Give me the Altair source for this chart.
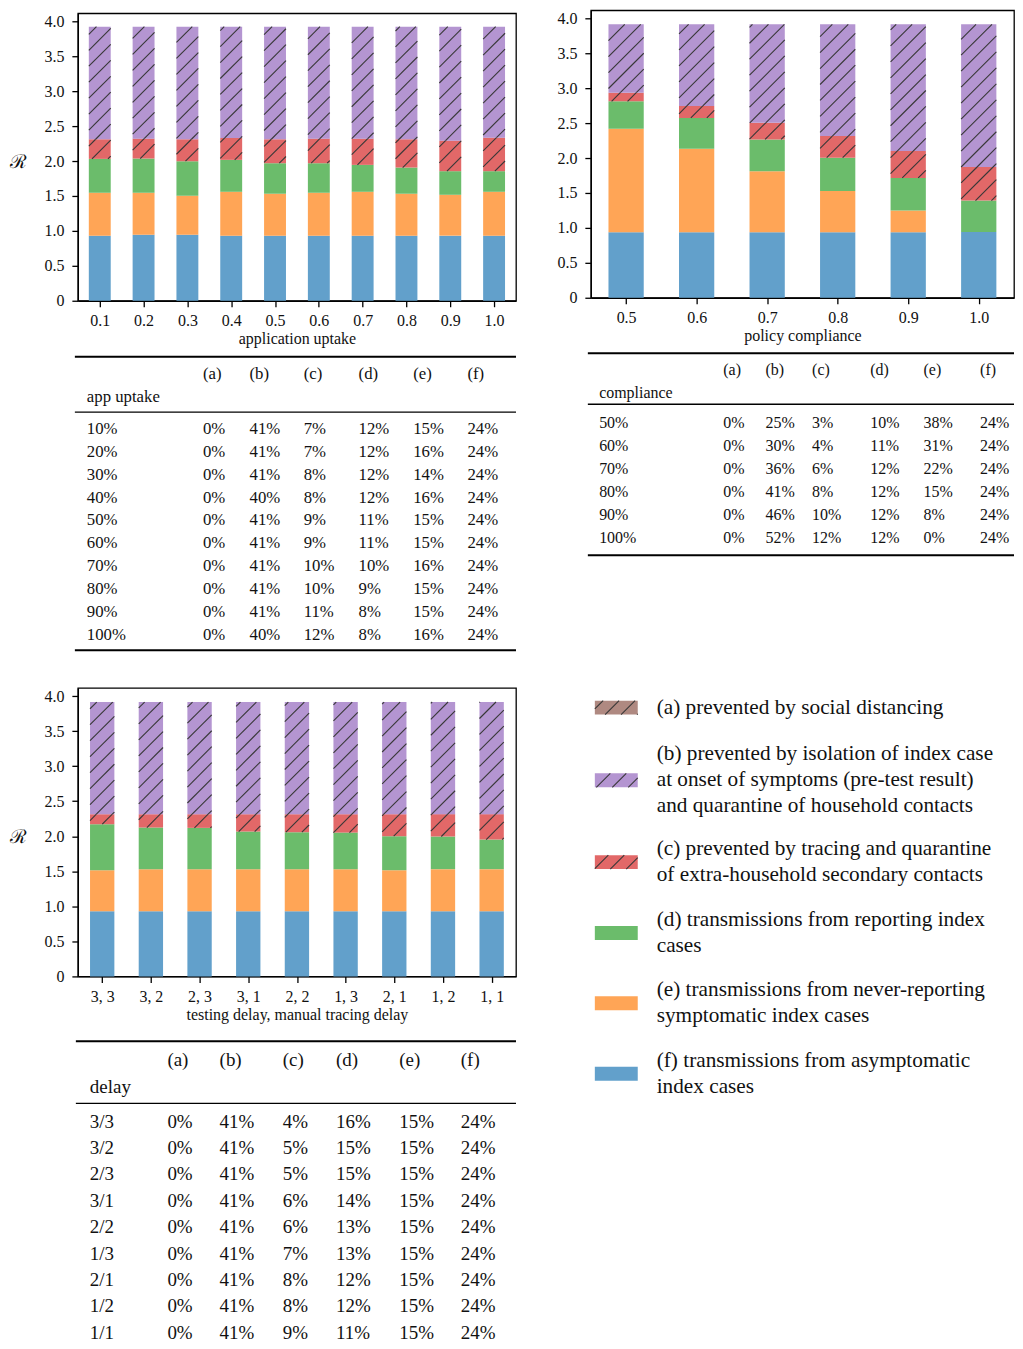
import math
import altair as alt
import pandas as pd

# ---------------- data ----------------
SEG_ORDER = ["f", "e", "d", "c", "b", "a"]          # stacking order, bottom -> top
HATCHED = ["a", "b", "c"]
LEGEND_ORDER = ["a", "b", "c", "d", "e", "f"]
SEG_COLORS = ["#af8981", "#b495d1", "#e26868", "#6bbc6b", "#ffa556", "#62a0cb"]  # a..f

uptake_labels = ["0.1", "0.2", "0.3", "0.4", "0.5", "0.6", "0.7", "0.8", "0.9", "1.0"]
uptake_f = [0.932, 0.946, 0.946, 0.932, 0.932, 0.932, 0.932, 0.932, 0.932, 0.932]
uptake_e = [0.614, 0.600, 0.557, 0.628, 0.600, 0.614, 0.628, 0.600, 0.585, 0.628]
uptake_d = [0.485, 0.490, 0.495, 0.457, 0.437, 0.423, 0.385, 0.375, 0.338, 0.295]
uptake_c = [0.281, 0.285, 0.314, 0.314, 0.343, 0.352, 0.376, 0.405, 0.437, 0.480]
uptake_b = [1.612, 1.603, 1.612, 1.593, 1.612, 1.603, 1.603, 1.612, 1.632, 1.589]
uptake_a = [0, 0, 0, 0, 0, 0, 0, 0, 0, 0]

compliance_labels = ["0.5", "0.6", "0.7", "0.8", "0.9", "1.0"]
compliance_f = [0.936, 0.936, 0.936, 0.936, 0.936, 0.941]
compliance_e = [1.482, 1.197, 0.874, 0.594, 0.313, 0.0]
compliance_d = [0.394, 0.442, 0.456, 0.475, 0.466, 0.451]
compliance_c = [0.124, 0.171, 0.238, 0.309, 0.385, 0.480]
compliance_b = [0.978, 1.168, 1.410, 1.600, 1.814, 2.042]
compliance_a = [0, 0, 0, 0, 0, 0]

delay_labels = ["3, 3", "3, 2", "2, 3", "3, 1", "2, 2", "1, 3", "2, 1", "1, 2", "1, 1"]
delay_f = [0.931, 0.931, 0.931, 0.931, 0.931, 0.931, 0.931, 0.931, 0.931]
delay_e = [0.584, 0.599, 0.599, 0.599, 0.599, 0.599, 0.584, 0.599, 0.599]
delay_d = [0.656, 0.594, 0.589, 0.537, 0.527, 0.522, 0.485, 0.466, 0.423]
delay_c = [0.143, 0.190, 0.195, 0.247, 0.257, 0.262, 0.314, 0.319, 0.362]
delay_b = [1.600, 1.600, 1.600, 1.600, 1.600, 1.600, 1.600, 1.600, 1.600]
delay_a = [0, 0, 0, 0, 0, 0, 0, 0, 0]

y_ticks = [0, 0.5, 1.0, 1.5, 2.0, 2.5, 3.0, 3.5, 4.0]
table_cols = ["(a)", "(b)", "(c)", "(d)", "(e)", "(f)"]

uptake_rows = ["10%", "20%", "30%", "40%", "50%", "60%", "70%", "80%", "90%", "100%"]
uptake_table = [
    [0, 41, 7, 12, 15, 24], [0, 41, 7, 12, 16, 24], [0, 41, 8, 12, 14, 24],
    [0, 40, 8, 12, 16, 24], [0, 41, 9, 11, 15, 24], [0, 41, 9, 11, 15, 24],
    [0, 41, 10, 10, 16, 24], [0, 41, 10, 9, 15, 24], [0, 41, 11, 8, 15, 24],
    [0, 40, 12, 8, 16, 24],
]
compliance_rows = ["50%", "60%", "70%", "80%", "90%", "100%"]
compliance_table = [
    [0, 25, 3, 10, 38, 24], [0, 30, 4, 11, 31, 24], [0, 36, 6, 12, 22, 24],
    [0, 41, 8, 12, 15, 24], [0, 46, 10, 12, 8, 24], [0, 52, 12, 12, 0, 24],
]
delay_rows = ["3/3", "3/2", "2/3", "3/1", "2/2", "1/3", "2/1", "1/2", "1/1"]
delay_table = [
    [0, 41, 4, 16, 15, 24], [0, 41, 5, 15, 15, 24], [0, 41, 5, 15, 15, 24],
    [0, 41, 6, 14, 15, 24], [0, 41, 6, 13, 15, 24], [0, 41, 7, 13, 15, 24],
    [0, 41, 8, 12, 15, 24], [0, 41, 8, 12, 15, 24], [0, 41, 9, 11, 15, 24],
]

legend_lines = {
    "a": ["(a) prevented by social distancing"],
    "b": ["(b) prevented by isolation of index case",
          "at onset of symptoms (pre-test result)",
          "and quarantine of household contacts"],
    "c": ["(c) prevented by tracing and quarantine",
          "of extra-household secondary contacts"],
    "d": ["(d) transmissions from reporting index", "cases"],
    "e": ["(e) transmissions from never-reporting", "symptomatic index cases"],
    "f": ["(f) transmissions from asymptomatic", "index cases"],
}

# ---------------- style / layout ----------------
FONT = "Liberation Serif"
TXT = "#111111"
HATCH_COLOR = "#383838"
HATCH_PERIOD = 16.0
BAR_HALF = 0.25

color_scale = alt.Scale(domain=LEGEND_ORDER, range=SEG_COLORS)
NOFRAME = alt.ViewBackground(stroke="transparent", strokeWidth=0)


def hatch_lines(Xl, Xr, Y0, Y1):
    """45-degree hatch segments (pixel space, y up) clipped to a rectangle."""
    out = []
    P = HATCH_PERIOD
    for k in range(math.ceil((Y0 - Xr) / P), math.floor((Y1 - Xl) / P) + 1):
        c = k * P
        xs = max(Xl, Y0 - c)
        xe = min(Xr, Y1 - c)
        if xe - xs > 0.3:
            out.append((xs, xs + c, xe, xe + c))
    return out


def bar_panel(cats, segs, xtitle, W, H, ymax, ytitle):
    n = len(cats)
    px = W / n
    py = H / ymax
    bars, hatch = [], []
    for i in range(n):
        base = 0.0
        for key in SEG_ORDER:
            v = segs[key][i]
            y0, y1 = base, base + v
            base = y1
            if v <= 0:
                continue
            bars.append(dict(seg=key, x0=i - BAR_HALF, x1=i + BAR_HALF, y0=y0, y1=y1))
            if key in HATCHED:
                Xl = (i - BAR_HALF + 0.5) * px
                Xr = (i + BAR_HALF + 0.5) * px
                for xs, ys, xe, ye in hatch_lines(Xl, Xr, y0 * py, y1 * py):
                    hatch.append(dict(x0=xs / px - 0.5, x1=xe / px - 0.5,
                                      y0=ys / py, y1=ye / py))
    label_expr = "[" + ",".join("'%s'" % c for c in cats) + "][datum.value]"
    xenc = alt.X("x0:Q", scale=alt.Scale(domain=[-0.5, n - 0.5], nice=False, zero=False),
                 axis=alt.Axis(values=list(range(n)), labelExpr=label_expr, title=xtitle,
                               grid=False))
    yaxis = dict(values=y_ticks, grid=False,
                 labelExpr="datum.value == 0 ? '0' : format(datum.value, '.1f')")
    if ytitle:
        yaxis.update(title=ytitle, titleAngle=0, titleX=-60, titleY=H / 2 + 4,
                     titleAlign="center", titleBaseline="middle", titleFontSize=19)
    else:
        yaxis.update(title=None)
    yenc = alt.Y("y0:Q", scale=alt.Scale(domain=[0, ymax], nice=False, zero=False),
                 axis=alt.Axis(**yaxis))
    bar_layer = alt.Chart(pd.DataFrame(bars)).mark_bar().encode(
        x=xenc, x2="x1:Q", y=yenc, y2="y1:Q",
        color=alt.Color("seg:N", scale=color_scale, legend=None),
    )
    hatch_layer = alt.Chart(pd.DataFrame(hatch)).mark_rule(
        color=HATCH_COLOR, strokeWidth=1.1
    ).encode(x=xenc, x2="x1:Q", y=yenc, y2="y1:Q")
    return alt.layer(bar_layer, hatch_layer).properties(width=W, height=H)


def pixel_x(W):
    return alt.Scale(domain=[0, W], nice=False, zero=False)


def pixel_y(H):
    return alt.Scale(domain=[0, H], nice=False, zero=False, reverse=True)


def table_panel(title, row_labels, table, L):
    W, H = L["W"], L["H"]
    texts = []
    for j, c in enumerate(table_cols):
        texts.append(dict(tx=L["col_x"][j + 1], ty=L["header_y"], label=c))
    texts.append(dict(tx=L["col_x"][0], ty=L["title_y"], label=title))
    for r, (lab, vals) in enumerate(zip(row_labels, table)):
        ty = L["row_y0"] + r * L["row_dy"]
        texts.append(dict(tx=L["col_x"][0], ty=ty, label=lab))
        for j, v in enumerate(vals):
            texts.append(dict(tx=L["col_x"][j + 1], ty=ty, label="%d%%" % v))
    rules = [dict(tx=L["rule_x"][0], tx2=L["rule_x"][1], ty=y, rw=w)
             for y, w in L["rules"]]
    text_layer = alt.Chart(pd.DataFrame(texts)).mark_text(
        align="left", baseline="middle", font=FONT, fontSize=L["fs"], color=TXT
    ).encode(
        x=alt.X("tx:Q", scale=pixel_x(W), axis=None),
        y=alt.Y("ty:Q", scale=pixel_y(H), axis=None),
        text="label:N",
    )
    rule_layer = alt.Chart(pd.DataFrame(rules)).mark_rule(color="#000000").encode(
        x=alt.X("tx:Q", scale=pixel_x(W), axis=None),
        x2="tx2:Q",
        y=alt.Y("ty:Q", scale=pixel_y(H), axis=None),
        strokeWidth=alt.StrokeWidth("rw:Q", scale=None, legend=None),
    )
    return alt.layer(rule_layer, text_layer).properties(width=W, height=H, view=NOFRAME)


def legend_panel(L):
    W, H = L["W"], L["H"]
    rects, hatch, texts = [], [], []
    for key, cy in zip(LEGEND_ORDER, L["centers"]):
        x0, x1 = L["sw_x"]
        y0, y1 = cy - L["sw_h"] / 2, cy + L["sw_h"] / 2
        rects.append(dict(seg=key, x0=x0, x1=x1, y0=y0, y1=y1))
        if key in HATCHED:
            for xs, ys, xe, ye in hatch_lines(x0, x1, -y1, -y0):
                hatch.append(dict(x0=xs, x1=xe, y0=-ys, y1=-ye))
        lines = legend_lines[key]
        nl = len(lines)
        for i, line in enumerate(lines):
            texts.append(dict(tx=L["text_x"], ty=cy + (i - (nl - 1) / 2) * L["line_h"],
                              label=line))
    xs = pixel_x(W)
    ys = pixel_y(H)
    rect_layer = alt.Chart(pd.DataFrame(rects)).mark_rect().encode(
        x=alt.X("x0:Q", scale=xs, axis=None), x2="x1:Q",
        y=alt.Y("y0:Q", scale=ys, axis=None), y2="y1:Q",
        color=alt.Color("seg:N", scale=color_scale, legend=None),
    )
    hatch_layer = alt.Chart(pd.DataFrame(hatch)).mark_rule(
        color=HATCH_COLOR, strokeWidth=1.1
    ).encode(
        x=alt.X("x0:Q", scale=xs, axis=None), x2="x1:Q",
        y=alt.Y("y0:Q", scale=ys, axis=None), y2="y1:Q",
    )
    text_layer = alt.Chart(pd.DataFrame(texts)).mark_text(
        align="left", baseline="middle", font=FONT, fontSize=L["fs"], color=TXT
    ).encode(
        x=alt.X("tx:Q", scale=xs, axis=None),
        y=alt.Y("ty:Q", scale=ys, axis=None),
        text="label:N",
    )
    return alt.layer(rect_layer, hatch_layer, text_layer).properties(
        width=W, height=H, view=NOFRAME)


# ---------------- panels ----------------
RIGHT_W = 424

chart_uptake = bar_panel(
    uptake_labels,
    dict(a=uptake_a, b=uptake_b, c=uptake_c, d=uptake_d, e=uptake_e, f=uptake_f),
    "application uptake", 439, 288, 4.115, "ℛ")
chart_compliance = bar_panel(
    compliance_labels,
    dict(a=compliance_a, b=compliance_b, c=compliance_c, d=compliance_d,
         e=compliance_e, f=compliance_f),
    "policy compliance", RIGHT_W, 288, 4.115, None)
chart_delay = bar_panel(
    delay_labels,
    dict(a=delay_a, b=delay_b, c=delay_c, d=delay_d, e=delay_e, f=delay_f),
    "testing delay, manual tracing delay", 439, 289, 4.115, "ℛ")

table_uptake = table_panel("app uptake", uptake_rows, uptake_table, dict(
    W=439, H=384, fs=16.8, col_x=[9, 125.3, 172, 226.3, 281.3, 336, 390.3],
    rule_x=[-3, 439], rules=[(54, 2.0), (109.7, 1.3), (348.3, 2.0)],
    header_y=71.7, title_y=94, row_y0=126.3, row_dy=22.97))
table_compliance = table_panel("compliance", compliance_rows, compliance_table, dict(
    W=RIGHT_W, H=380, fs=16, col_x=[8.3, 132.7, 175, 221.7, 280, 333.3, 390],
    rule_x=[-3, RIGHT_W], rules=[(53.7, 2.0), (104.7, 1.3), (256, 2.0)],
    header_y=70, title_y=93.7, row_y0=123.7, row_dy=23.1))
table_delay = table_panel("delay", delay_rows, delay_table, dict(
    W=439, H=330, fs=19, col_x=[12, 89.7, 142, 205.3, 258.7, 322, 383.7],
    rule_x=[-2, 439], rules=[(63, 2.0), (125.3, 1.3)],
    header_y=82, title_y=108.7, row_y0=143.7, row_dy=26.4))

legend = legend_panel(dict(
    W=RIGHT_W, H=420, fs=21.3, sw_x=[4, 47], sw_h=14, text_x=66, line_h=26,
    centers=[26.7, 99.5, 181.5, 252.5, 323, 393.5]))

spacer = alt.Chart(pd.DataFrame({"v": [0]})).mark_rect(opacity=0).encode(
    x=alt.value(0), x2=alt.value(10), y=alt.value(0), y2=alt.value(1)
).properties(width=10, height=1, view=NOFRAME)

left = alt.vconcat(spacer, chart_uptake, table_uptake, chart_delay, table_delay,
                   spacing=2, bounds="flush")
right = alt.vconcat(chart_compliance, table_compliance, legend, spacing=2, bounds="flush")

chart = alt.hconcat(left, right, spacing=514, bounds="flush").properties(
    padding={"left": 0, "top": 0, "right": 0, "bottom": 0}
).configure(
    font=FONT
).configure_view(
    stroke="#000000", strokeWidth=1.3
).configure_axis(
    labelFont=FONT, titleFont=FONT, labelFontSize=16, titleFontSize=16,
    titleFontWeight="normal", labelColor=TXT, titleColor=TXT,
    domainColor="#000000", domainWidth=1.3, tickColor="#000000", tickWidth=1.3,
    tickSize=6,
).configure_axisX(
    labelPadding=6, titlePadding=2, labelAngle=0
).configure_axisY(
    labelPadding=8
)

chart.save("out.html", embed_options={"renderer": "svg", "actions": False})
